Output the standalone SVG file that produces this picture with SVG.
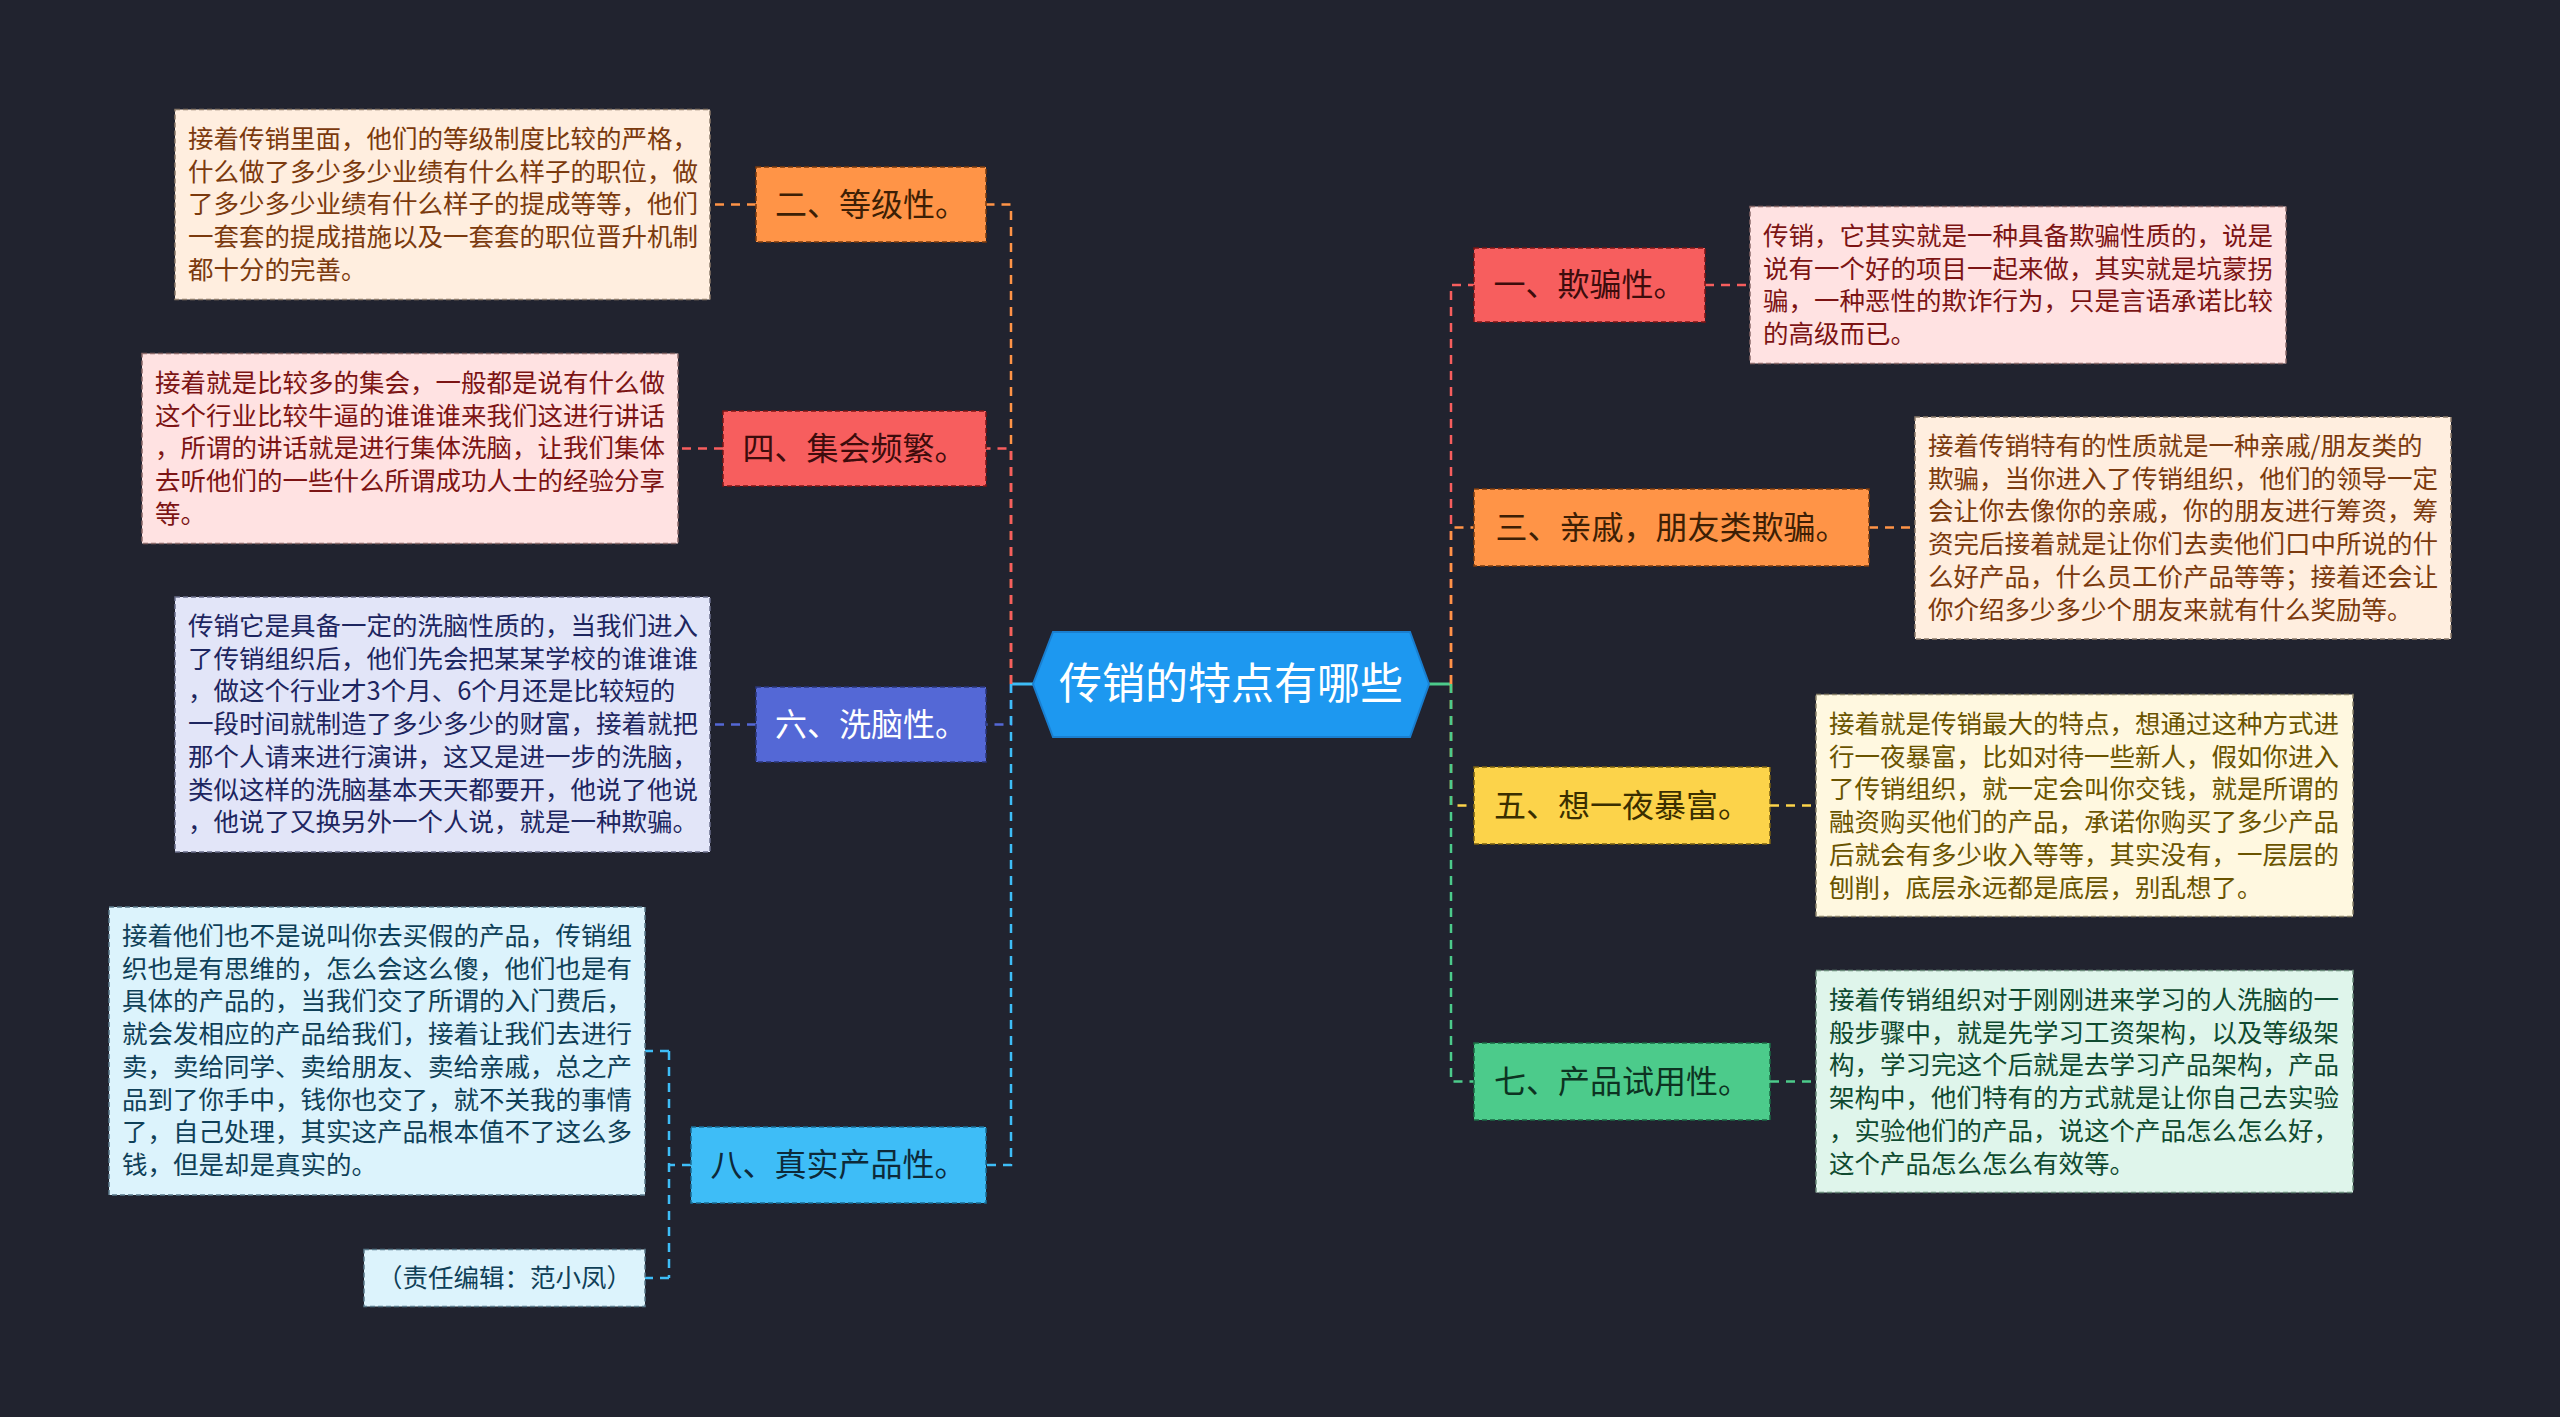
<svg xmlns="http://www.w3.org/2000/svg" width="2560" height="1417" viewBox="0 0 2560 1417">
<style>
text{font-family:"Noto Sans CJK SC","Noto Sans",sans-serif}
.leaf{font-size:25.5px}
.topic{font-size:32px;text-anchor:middle}
.lb{stroke-width:1.5;stroke-dasharray:5 3}
.tb{stroke-width:1.5;stroke-dasharray:5 3}
.c{fill:none;stroke-width:2.5;stroke-dasharray:9 7}
.s{fill:none;stroke-width:3}
</style>
<rect width="2560" height="1417" fill="#21232f"/>
<g id="connectors">
<path class="s" d="M1033,684 H1011" stroke="#3ebdf7"/>
<path class="s" d="M1429,684 H1451" stroke="#4ccb8b"/>
<path class="c" d="M1011,684 V204.5 H986" stroke="#ff9447"/>
<path class="c" d="M1011,684 V448.5 H986" stroke="#f75e5e"/>
<path class="c" d="M1011,684 V724.5 H986" stroke="#5468d6"/>
<path class="c" d="M1011,684 V1165 H986" stroke="#3ebdf7"/>
<path class="c" d="M1451,684 V285 H1474" stroke="#f75e5e"/>
<path class="c" d="M1451,684 V527.5 H1474" stroke="#ff9447"/>
<path class="c" d="M1451,684 V805.5 H1474" stroke="#fcd34a"/>
<path class="c" d="M1451,684 V1081.5 H1474" stroke="#4ccb8b"/>
<path class="c" d="M756,204.5 H710" stroke="#ff9447"/>
<path class="c" d="M723,448.5 H678" stroke="#f75e5e"/>
<path class="c" d="M756,724.5 H710" stroke="#5468d6"/>
<path class="c" d="M691,1165 H669 M669,1051 V1278 M669,1051 H645 M669,1278 H645" stroke="#3ebdf7"/>
<path class="c" d="M1705,285 H1750" stroke="#f75e5e"/>
<path class="c" d="M1869,527.5 H1915" stroke="#ff9447"/>
<path class="c" d="M1770,805.5 H1816" stroke="#fcd34a"/>
<path class="c" d="M1770,1081.5 H1816" stroke="#4ccb8b"/>
</g>
<g id="center">
<polygon points="1033,684 1053,632 1410,632 1429,684 1410,737 1053,737" fill="#1d98f0" stroke="#1a7fd0" stroke-width="2"/>
<text x="1231" y="699" font-size="43" fill="#ffffff" text-anchor="middle">传销的特点有哪些</text>
</g>
<g id="t2"><rect class="tb" x="756" y="167" width="230" height="75" fill="#ff9447" stroke="#7a3a0e"/><text class="topic" x="871" y="216" fill="#3d1f05">二、等级性。</text></g>
<g id="t4"><rect class="tb" x="723" y="411" width="263" height="75" fill="#f75e5e" stroke="#7c1414"/><text class="topic" x="854.5" y="460" fill="#3d0c0c">四、集会频繁。</text></g>
<g id="t6"><rect class="tb" x="756" y="687" width="230" height="75" fill="#5468d6" stroke="#2a367a"/><text class="topic" x="871" y="736" fill="#ffffff">六、洗脑性。</text></g>
<g id="t8"><rect class="tb" x="691" y="1127" width="295" height="76" fill="#3ebdf7" stroke="#1a6e96"/><text class="topic" x="838.5" y="1176" fill="#0d2a3a">八、真实产品性。</text></g>
<g id="t1"><rect class="tb" x="1474" y="248" width="231" height="74" fill="#f75e5e" stroke="#7c1414"/><text class="topic" x="1589.5" y="296" fill="#3d0c0c">一、欺骗性。</text></g>
<g id="t3"><rect class="tb" x="1474" y="489" width="395" height="77" fill="#ff9447" stroke="#7a3a0e"/><text class="topic" x="1671.5" y="539" fill="#3d1f05">三、亲戚，朋友类欺骗。</text></g>
<g id="t5"><rect class="tb" x="1474" y="767" width="296" height="77" fill="#fcd34a" stroke="#7a6010"/><text class="topic" x="1622" y="817" fill="#3a2e00">五、想一夜暴富。</text></g>
<g id="t7"><rect class="tb" x="1474" y="1043" width="296" height="77" fill="#4ccb8b" stroke="#1a6a44"/><text class="topic" x="1622" y="1093" fill="#0d3322">七、产品试用性。</text></g>
<g id="l2"><rect class="lb" x="175" y="109.5" width="535" height="190" fill="#ffeedf" stroke="#8a7a6a"/>
<text class="leaf" fill="#7b3a0e" x="188" y="148"><tspan x="188">接着传销里面，他们的等级制度比较的严格，</tspan><tspan x="188" dy="32.7">什么做了多少多少业绩有什么样子的职位，做</tspan><tspan x="188" dy="32.7">了多少多少业绩有什么样子的提成等等，他们</tspan><tspan x="188" dy="32.7">一套套的提成措施以及一套套的职位晋升机制</tspan><tspan x="188" dy="32.7">都十分的完善。</tspan></text></g>
<g id="l4"><rect class="lb" x="142" y="353.5" width="536" height="190" fill="#ffe2e2" stroke="#8a6a6a"/>
<text class="leaf" fill="#7c1414" x="155" y="392"><tspan x="155">接着就是比较多的集会，一般都是说有什么做</tspan><tspan x="155" dy="32.7">这个行业比较牛逼的谁谁谁来我们这进行讲话</tspan><tspan x="155" dy="32.7">，所谓的讲话就是进行集体洗脑，让我们集体</tspan><tspan x="155" dy="32.7">去听他们的一些什么所谓成功人士的经验分享</tspan><tspan x="155" dy="32.7">等。</tspan></text></g>
<g id="l6"><rect class="lb" x="175" y="597" width="535" height="255" fill="#e2e5f8" stroke="#6a6e8a"/>
<text class="leaf" fill="#1d2660" x="188" y="635"><tspan x="188">传销它是具备一定的洗脑性质的，当我们进入</tspan><tspan x="188" dy="32.7">了传销组织后，他们先会把某某学校的谁谁谁</tspan><tspan x="188" dy="32.7">，做这个行业才3个月、6个月还是比较短的</tspan><tspan x="188" dy="32.7">一段时间就制造了多少多少的财富，接着就把</tspan><tspan x="188" dy="32.7">那个人请来进行演讲，这又是进一步的洗脑，</tspan><tspan x="188" dy="32.7">类似这样的洗脑基本天天都要开，他说了他说</tspan><tspan x="188" dy="32.7">，他说了又换另外一个人说，就是一种欺骗。</tspan></text></g>
<g id="l8"><rect class="lb" x="109" y="907" width="536" height="288" fill="#dcf3fc" stroke="#5a7a8a"/>
<text class="leaf" fill="#0f4058" x="122" y="945"><tspan x="122">接着他们也不是说叫你去买假的产品，传销组</tspan><tspan x="122" dy="32.7">织也是有思维的，怎么会这么傻，他们也是有</tspan><tspan x="122" dy="32.7">具体的产品的，当我们交了所谓的入门费后，</tspan><tspan x="122" dy="32.7">就会发相应的产品给我们，接着让我们去进行</tspan><tspan x="122" dy="32.7">卖，卖给同学、卖给朋友、卖给亲戚，总之产</tspan><tspan x="122" dy="32.7">品到了你手中，钱你也交了，就不关我的事情</tspan><tspan x="122" dy="32.7">了，自己处理，其实这产品根本值不了这么多</tspan><tspan x="122" dy="32.7">钱，但是却是真实的。</tspan></text></g>
<g id="l8b"><rect class="lb" x="364" y="1249.5" width="281" height="57" fill="#dcf3fc" stroke="#5a7a8a"/>
<text class="leaf" fill="#0f4058" x="377" y="1287">（责任编辑：范小凤）</text></g>
<g id="l1"><rect class="lb" x="1750" y="206.5" width="536" height="157" fill="#ffe2e2" stroke="#8a6a6a"/>
<text class="leaf" fill="#7c1414" x="1763" y="245"><tspan x="1763">传销，它其实就是一种具备欺骗性质的，说是</tspan><tspan x="1763" dy="32.7">说有一个好的项目一起来做，其实就是坑蒙拐</tspan><tspan x="1763" dy="32.7">骗，一种恶性的欺诈行为，只是言语承诺比较</tspan><tspan x="1763" dy="32.7">的高级而已。</tspan></text></g>
<g id="l3"><rect class="lb" x="1915" y="417" width="536" height="222" fill="#ffeedf" stroke="#8a7a6a"/>
<text class="leaf" fill="#7b3a0e" x="1928" y="455"><tspan x="1928">接着传销特有的性质就是一种亲戚/朋友类的</tspan><tspan x="1928" dy="32.7">欺骗，当你进入了传销组织，他们的领导一定</tspan><tspan x="1928" dy="32.7">会让你去像你的亲戚，你的朋友进行筹资，筹</tspan><tspan x="1928" dy="32.7">资完后接着就是让你们去卖他们口中所说的什</tspan><tspan x="1928" dy="32.7">么好产品，什么员工价产品等等；接着还会让</tspan><tspan x="1928" dy="32.7">你介绍多少多少个朋友来就有什么奖励等。</tspan></text></g>
<g id="l5"><rect class="lb" x="1816" y="694.5" width="537" height="222" fill="#fff8e0" stroke="#8a826a"/>
<text class="leaf" fill="#6a5400" x="1829" y="733"><tspan x="1829">接着就是传销最大的特点，想通过这种方式进</tspan><tspan x="1829" dy="32.7">行一夜暴富，比如对待一些新人，假如你进入</tspan><tspan x="1829" dy="32.7">了传销组织，就一定会叫你交钱，就是所谓的</tspan><tspan x="1829" dy="32.7">融资购买他们的产品，承诺你购买了多少产品</tspan><tspan x="1829" dy="32.7">后就会有多少收入等等，其实没有，一层层的</tspan><tspan x="1829" dy="32.7">刨削，底层永远都是底层，别乱想了。</tspan></text></g>
<g id="l7"><rect class="lb" x="1816" y="970.5" width="537" height="222" fill="#dff5eb" stroke="#6a8a7a"/>
<text class="leaf" fill="#0f4a30" x="1829" y="1009"><tspan x="1829">接着传销组织对于刚刚进来学习的人洗脑的一</tspan><tspan x="1829" dy="32.7">般步骤中，就是先学习工资架构，以及等级架</tspan><tspan x="1829" dy="32.7">构，学习完这个后就是去学习产品架构，产品</tspan><tspan x="1829" dy="32.7">架构中，他们特有的方式就是让你自己去实验</tspan><tspan x="1829" dy="32.7">，实验他们的产品，说这个产品怎么怎么好，</tspan><tspan x="1829" dy="32.7">这个产品怎么怎么有效等。</tspan></text></g>
</svg>
